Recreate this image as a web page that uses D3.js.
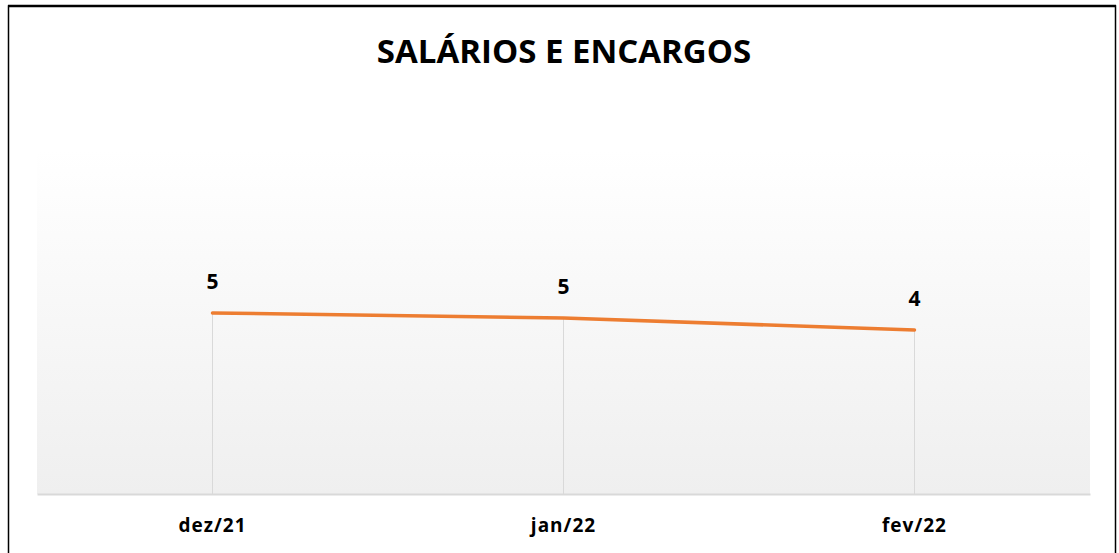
<!DOCTYPE html>
<html>
<head>
<meta charset="utf-8">
<script src="https://cdn.jsdelivr.net/npm/d3@7"></script>
<style>
  html, body { margin: 0; padding: 0; background: #fff; }
  svg { display: block; }
</style>
</head>
<body>
<div id="chart"></div>
<script>
  // chart data
  const categories = ['dez/21', 'jan/22', 'fev/22'];
  const values = [4.9, 4.76, 4.44];
  const title = 'SALÁRIOS E ENCARGOS';

  const W = 1119, H = 553;
  const plot = { left: 37, right: 1090, top: 150, bottom: 494 };

  const svg = d3.select('#chart').append('svg')
    .attr('width', W).attr('height', H);

  // plot area background gradient
  const defs = svg.append('defs');
  const grad = defs.append('linearGradient').attr('id', 'bg')
    .attr('x1', 0).attr('y1', 0).attr('x2', 0).attr('y2', 1);
  grad.append('stop').attr('offset', '0%').attr('stop-color', '#ffffff');
  grad.append('stop').attr('offset', '100%').attr('stop-color', '#efefef');

  svg.append('rect')
    .attr('x', plot.left).attr('y', plot.top)
    .attr('width', plot.right - plot.left).attr('height', plot.bottom - plot.top)
    .attr('fill', 'url(#bg)');

  // outer frame
  svg.append('rect')
    .attr('x', 8.5).attr('y', 6).attr('width', 1107).attr('height', 560)
    .attr('fill', 'none').attr('stroke', '#000').attr('stroke-width', 1.5);
  svg.append('line')
    .attr('x1', 8).attr('x2', 1116).attr('y1', 6).attr('y2', 6)
    .attr('stroke', '#000').attr('stroke-width', 2.5);

  svg.append('text')
    .attr('x', 564).attr('y', 63)
    .attr('text-anchor', 'middle')
    .attr('font-family', '"Open Sans", sans-serif')
    .attr('font-weight', 700).attr('font-size', 33)
    .attr('fill', '#000')
    .text(title);

  const x = d3.scaleBand().domain(categories)
    .range([plot.left, plot.right]);
  const y = d3.scaleLinear().domain([0, 9.31])
    .range([plot.bottom, plot.top]);
  const cx = d => x(d) + x.bandwidth() / 2;

  // drop lines
  svg.append('g').selectAll('line').data(categories).join('line')
    .attr('x1', d => cx(d)).attr('x2', d => cx(d))
    .attr('y1', (d, i) => y(values[i])).attr('y2', plot.bottom)
    .attr('stroke', '#d9d9d9').attr('stroke-width', 1);

  // x axis
  const xAxis = svg.append('g')
    .attr('transform', `translate(0,${plot.bottom})`)
    .call(d3.axisBottom(x).tickSize(0).tickPadding(25));
  xAxis.select('.domain').attr('stroke', '#d9d9d9').attr('stroke-width', 2);
  xAxis.selectAll('text')
    .attr('font-family', '"Open Sans", sans-serif')
    .attr('font-weight', 700).attr('font-size', 19)
    .attr('letter-spacing', 1)
    .attr('fill', '#000');

  // line
  const line = d3.line()
    .x((d, i) => cx(categories[i]))
    .y(d => y(d));
  svg.append('path').datum(values)
    .attr('d', line)
    .attr('fill', 'none')
    .attr('stroke', '#ed7d31')
    .attr('stroke-width', 3.5)
    .attr('stroke-linecap', 'round');

  // data labels
  svg.append('g').selectAll('text').data(values).join('text')
    .attr('x', (d, i) => cx(categories[i]))
    .attr('y', d => y(d) - 24)
    .attr('text-anchor', 'middle')
    .attr('font-family', '"Open Sans", sans-serif')
    .attr('font-weight', 700).attr('font-size', 21)
    .attr('fill', '#000')
    .text(d => Math.round(d));
</script>
</body>
</html>
